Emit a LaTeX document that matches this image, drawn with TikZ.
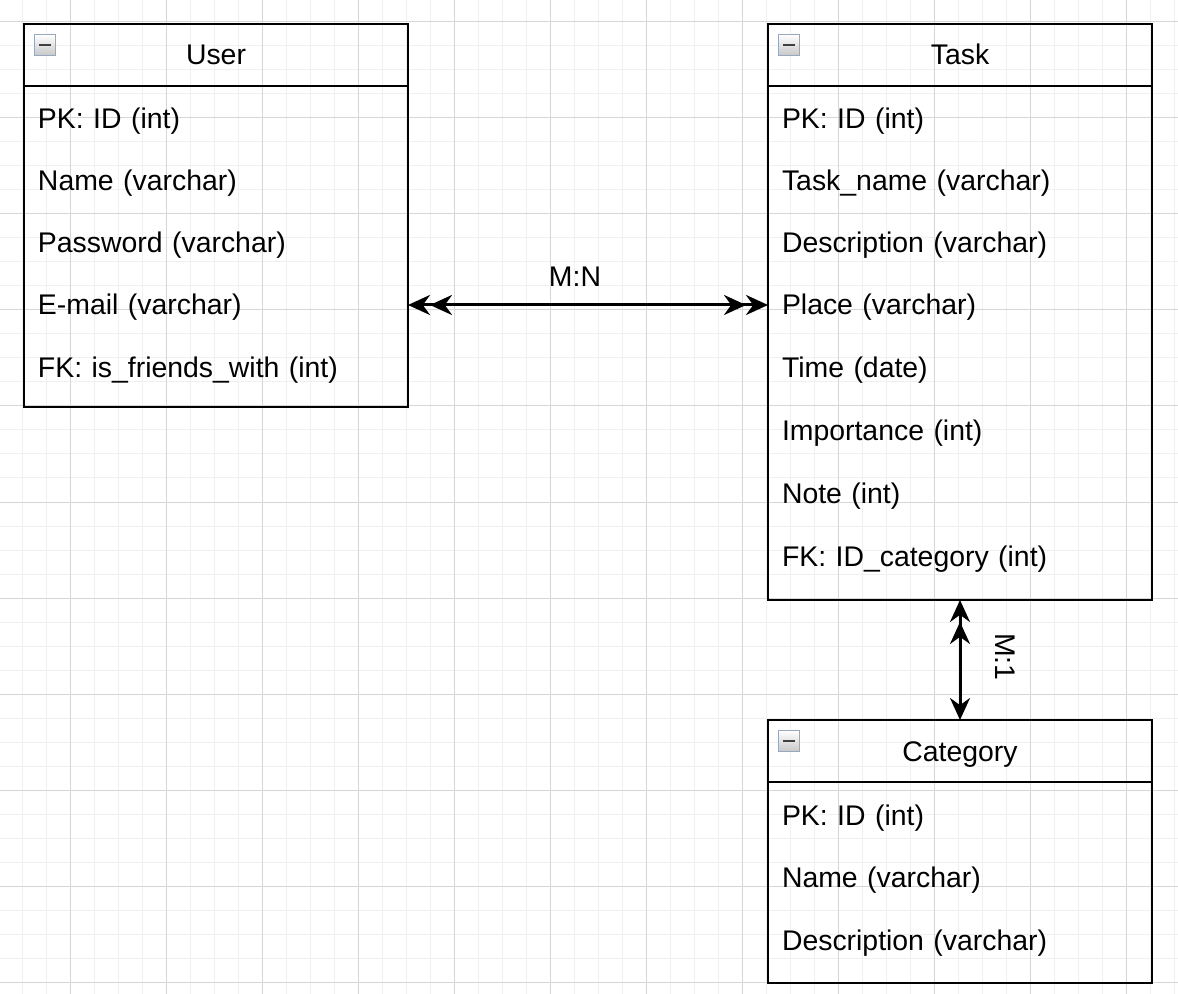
\documentclass[tikz,border=0pt]{standalone}
\usepackage{fontspec}
\setmainfont{Liberation Sans}
\usetikzlibrary{arrows.meta,positioning}
\definecolor{gridminor}{HTML}{F0F0F0}
\definecolor{gridmajor}{HTML}{D6D6D6}
\definecolor{iconedge}{HTML}{98A8BE}

\begin{document}
\begin{tikzpicture}
[x=0.5pt,y=-0.5pt
,font=\fontsize{14.2}{17}\selectfont
,minorgrid/.style={draw=gridminor,line width=0.5pt}
,majorgrid/.style={draw=gridmajor,line width=0.5pt}
,ent/.style={draw,line width=1.3pt,minimum width=192pt,inner sep=0pt,outer sep=0pt}
,hd/.style={ent,minimum height=31pt,text height=10pt,text depth=0pt}
,bd/.style={ent,below=0pt of #1}
,fld/.style={text width=178pt,inner xsep=7pt,inner ysep=0pt,outer sep=0pt,text height=10pt,text depth=0pt}
,mini/.style={draw=iconedge,line width=0.5pt,top color=white,bottom color=black!22,minimum size=10.5pt,inner sep=0pt,anchor=north west}
,lbl/.style={inner sep=0pt}
,rel/.style={line width=1.5pt,>={Stealth[length=11pt,width=10pt]}}
]
\useasboundingbox (0,0) rectangle (1178,994);
% grid
\foreach \gx in {22,46,...,1174} \draw[minorgrid] (\gx,0) -- (\gx,994);
\foreach \gy in {22,46,...,982} \draw[minorgrid] (0,\gy) -- (1178,\gy);
\foreach \gx in {70,166,...,1126} \draw[majorgrid] (\gx,0) -- (\gx,994);
\foreach \gy in {22,118,...,982} \draw[majorgrid] (0,\gy) -- (1178,\gy);

% User
\node[hd] (userhd) at (216,55) {User};
\node[bd=userhd,minimum height=160.5pt] (user) {};
\node[mini] (usericon) at ([shift={(10,10)}]userhd.north west) {\color{black!75}\rule{6pt}{1.3pt}};
\node[fld] (uid) at (216,119) {PK: ID (int)};
\node[fld] (uname) at (216,181) {Name (varchar)};
\node[fld] (upass) at (216,243) {Password (varchar)};
\node[fld] (umail) at (216,305) {E-mail (varchar)};
\node[fld] (ufriend) at (216,368) {FK: is\_friends\_with (int)};

% Task
\node[hd] (taskhd) at (960,55) {Task};
\node[bd=taskhd,minimum height=257pt] (task) {};
\node[mini] (taskicon) at ([shift={(10,10)}]taskhd.north west) {\color{black!75}\rule{6pt}{1.3pt}};
\node[fld] (tid) at (960,119) {PK: ID (int)};
\node[fld] (tname) at (960,181) {Task\_name (varchar)};
\node[fld] (tdesc) at (960,243) {Description (varchar)};
\node[fld] (tplace) at (960,305) {Place (varchar)};
\node[fld] (ttime) at (960,368) {Time (date)};
\node[fld] (timp) at (960,431) {Importance (int)};
\node[fld] (tnote) at (960,493) {Note (int)};
\node[fld] (tcat) at (960,556) {FK: ID\_category (int)};

% Category
\node[hd] (cathd) at (960,751) {Category};
\node[bd=cathd,minimum height=100.5pt] (category) {};
\node[mini] (caticon) at ([shift={(10,10)}]cathd.north west) {\color{black!75}\rule{6pt}{1.3pt}};
\node[fld] (cid) at (960,815) {PK: ID (int)};
\node[fld] (cname) at (960,877) {Name (varchar)};
\node[fld] (cdesc) at (960,940) {Description (varchar)};

% relations
\draw[rel,<<->>] (umail.east) -- (tplace.west);
\node[lbl] (mn) at (575,277) {M:N};
\draw[rel,<<->] (task.south) -- (cathd.north);
\node[lbl,rotate=-90] (mone) at (1005,657) {M:1};
\end{tikzpicture}
\end{document}
